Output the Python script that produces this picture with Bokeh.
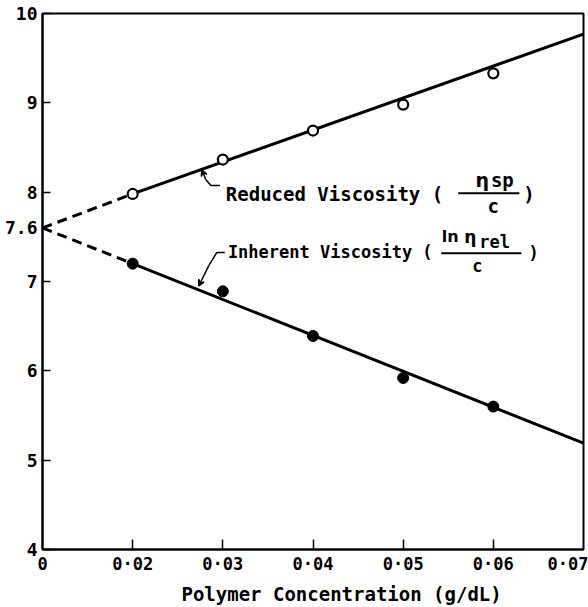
from bokeh.plotting import figure
from bokeh.models import FixedTicker, Range1d, Arrow, VeeHead
from bokeh.core.properties import value
from bokeh.embed import file_html
from bokeh.resources import INLINE

# Polymer concentration (g/dL) of the measured solutions
conc = [0.02, 0.03, 0.04, 0.05, 0.06]
# Reduced viscosity  eta_sp / c  (open circles)
reduced = [7.98, 8.365, 8.69, 8.98, 9.33]
# Inherent viscosity  ln(eta_rel) / c  (filled circles)
inherent = [7.20, 6.89, 6.39, 5.92, 5.60]

# Straight-line fits drawn over the measured range, and the common intercept
fit_conc = [0.02, 0.07]
reduced_fit = [7.98, 9.77]
inherent_fit = [7.20, 5.19]
intercept = 7.6  # intrinsic viscosity, at c = 0

# The x axis is broken: c = 0 sits one interval left of 0.02
ORIGIN_POS = 0.01
x_ticks = [0.01, 0.02, 0.03, 0.04, 0.05, 0.06, 0.07]
x_labels = ["0", "0·02", "0·03", "0·04", "0·05", "0·06", "0·07"]
y_ticks = [4, 5, 6, 7, 7.6, 8, 9, 10]
y_labels = ["4", "5", "6", "7", "7.6", "8", "9", "10"]

MONO = "DejaVu Sans Mono"
SANS = "DejaVu Sans"
INK = "#000000"
NBSP = "\u00a0"

p = figure(width=588, height=607, output_backend="svg", toolbar_location=None,
           x_range=Range1d(ORIGIN_POS, 0.07), y_range=Range1d(4, 10),
           min_border_left=42, min_border_right=5, min_border_top=13,
           min_border_bottom=58)
p.background_fill_color = "white"
p.border_fill_color = "white"
p.grid.visible = False
p.outline_line_color = INK
p.outline_line_width = 2

# x axis: inward ticks at the measured concentrations only
xa = p.xaxis[0]
xa.ticker = FixedTicker(ticks=x_ticks, minor_ticks=conc)
xa.major_label_overrides = {t: s for t, s in zip(x_ticks, x_labels)}
xa.major_tick_in = 0
xa.major_tick_out = 0
xa.minor_tick_in = 10
xa.minor_tick_out = 0
xa.minor_tick_line_color = INK
xa.minor_tick_line_width = 1.5
xa.axis_line_color = INK
xa.axis_line_width = 2
xa.major_label_standoff = 4
xa.major_label_text_font = MONO
xa.major_label_text_font_size = "17px"
xa.major_label_text_font_style = "bold"
xa.major_label_text_color = INK
xa.axis_label = NBSP * 5 + "Polymer Concentration (g/dL)"
xa.axis_label_text_font = MONO
xa.axis_label_text_font_size = "19px"
xa.axis_label_text_font_style = "bold"
xa.axis_label_text_color = INK
xa.axis_label_standoff = 6

# y axis: inward ticks at integer values, 7.6 labelled without a tick
ya = p.yaxis[0]
ya.ticker = FixedTicker(ticks=y_ticks, minor_ticks=[4, 5, 6, 7, 8, 9, 10])
ya.major_label_overrides = {t: s for t, s in zip(y_ticks, y_labels)}
ya.major_tick_in = 0
ya.major_tick_out = 0
ya.minor_tick_in = 8
ya.minor_tick_out = 0
ya.minor_tick_line_color = INK
ya.minor_tick_line_width = 1.5
ya.axis_line_color = INK
ya.axis_line_width = 2
ya.major_label_standoff = 5
ya.major_label_text_font = MONO
ya.major_label_text_font_size = "18px"
ya.major_label_text_font_style = "bold"
ya.major_label_text_color = INK

# extrapolation to c = 0 (dashed) and the fitted lines (solid)
p.line([ORIGIN_POS, fit_conc[0]], [intercept, reduced_fit[0]],
       line_color=INK, line_width=3, line_dash="10 6")
p.line([ORIGIN_POS, fit_conc[0]], [intercept, inherent_fit[0]],
       line_color=INK, line_width=3, line_dash="10 6")
p.line(fit_conc, reduced_fit, line_color=INK, line_width=3)
p.line(fit_conc, inherent_fit, line_color=INK, line_width=3)

# measured points
p.scatter(conc, reduced, size=10, marker="circle", fill_color="white",
          line_color=INK, line_width=2.2)
p.scatter(conc, inherent, size=11, marker="circle", fill_color=INK,
          line_color=INK, line_width=1)

# leader for the reduced-viscosity label
p.line([0.02967, 0.02867, 0.02811], [8.074, 8.074, 8.141],
       line_color=INK, line_width=1.5)
p.add_layout(Arrow(x_start=0.02811, y_start=8.141, x_end=0.02767, y_end=8.25,
                   line_color=INK, line_width=1.5,
                   end=VeeHead(size=6, line_color=INK, line_width=1.5,
                               fill_color=INK)))

# leader for the inherent-viscosity label
p.line([0.03022, 0.02933, 0.02844], [7.324, 7.324, 7.178],
       line_color=INK, line_width=1.5)
p.add_layout(Arrow(x_start=0.02844, y_start=7.178, x_end=0.02733, y_end=6.95,
                   line_color=INK, line_width=1.5,
                   end=VeeHead(size=6, line_color=INK, line_width=1.5,
                               fill_color=INK)))


def label(x, y, s, size, align="left", font=MONO, style="bold"):
    p.text([x], [y], text=[s], text_font=value(font), text_font_size=size,
           text_font_style=style, text_baseline="middle", text_align=align,
           text_color=INK)


# labels: reduced viscosity (eta_sp / c)
label(0.03033, 7.984, "Reduced Viscosity (", "19px")
label(0.05878, 8.141, "η", "19px", "center", SANS)
label(0.06100, 8.141, "sp", "19px", "center")
p.segment([0.05611], [7.988], [0.06289], [7.988], line_color=INK, line_width=1.8)
label(0.0600, 7.85, "c", "19px", "center")
label(0.06333, 7.984, ")", "19px")

# labels: inherent viscosity (ln eta_rel / c)
label(0.03056, 7.327, "Inherent Viscosity (", "17px")
label(0.05522, 7.50, "ln", "16px", "center", SANS)
label(0.05744, 7.50, "η", "17px", "center", SANS)
label(0.05844, 7.44, "rel", "17px", "left")
p.segment([0.05422], [7.316], [0.06311], [7.316], line_color=INK, line_width=1.8)
label(0.05822, 7.172, "c", "17px", "center")
label(0.06389, 7.324, ")", "17px")

open("out.html", "w").write(file_html(p, INLINE))
